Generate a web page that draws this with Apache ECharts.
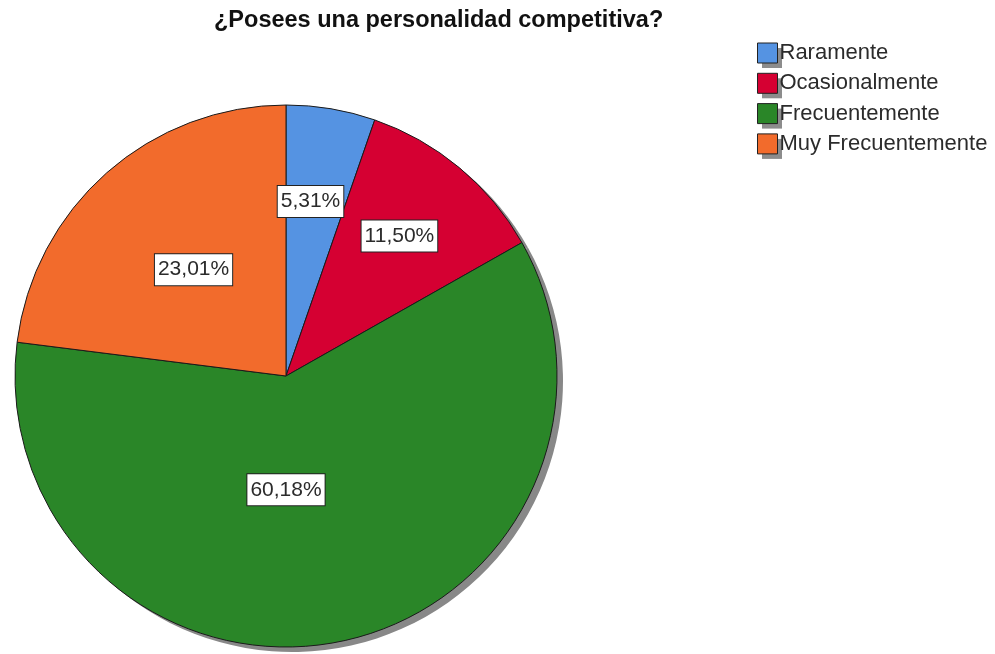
<!DOCTYPE html>
<html>
<head>
<meta charset="utf-8">
<script src="https://cdn.jsdelivr.net/npm/echarts@6/dist/echarts.min.js"></script>
<style>
  html, body { margin: 0; padding: 0; background: #fff; }
  #chart { width: 995px; height: 654px; }
</style>
</head>
<body>
<div id="chart"></div>
<script>
// Survey answers and their shares (percent)
const categories = ['Raramente', 'Ocasionalmente', 'Frecuentemente', 'Muy Frecuentemente'];
const shares = [5.31, 11.50, 60.18, 23.01];
const sliceColors = ['#5593E2', '#D50032', '#2A8628', '#F26B2C'];

// Where each percentage box sits: [angle from 12 o'clock in degrees, fraction of radius]
const labelPlacement = [[8, 0.65], [39, 0.665], [180, 0.42], [-41, 0.52]];

const CX = 286, CY = 376, R = 271;
const LEG_LEFT = 752, LEG_TOP = 37, LEG_GAP = 8.3, ICON = 20;

const fmt = v => v.toFixed(2).replace('.', ',') + '%';

const legendText = { fontFamily: 'Liberation Sans', fontSize: 22, lineHeight: 22, color: '#2b2b2b', padding: [0, 0, 0, -3] };

const chart = echarts.init(document.getElementById('chart'));
chart.setOption({
  animation: false,
  title: {
    text: '¿Posees una personalidad competitiva?',
    left: 209,
    top: 4,
    textStyle: { fontFamily: 'Liberation Sans', fontWeight: 'bold', fontSize: 23.5, color: '#111' }
  },
  legend: [
    {
      // grey drop shadow behind the legend swatches
      orient: 'vertical',
      left: LEG_LEFT + 5,
      top: LEG_TOP + 5,
      itemWidth: ICON,
      itemHeight: ICON,
      itemGap: LEG_GAP,
      icon: 'rect',
      selectedMode: false,
      data: categories,
      z: 1,
      textStyle: Object.assign({}, legendText, { color: 'rgba(0,0,0,0)' }),
      itemStyle: { color: '#8c8c8c', borderWidth: 0 }
    },
    {
      orient: 'vertical',
      left: LEG_LEFT,
      top: LEG_TOP,
      itemWidth: ICON,
      itemHeight: ICON,
      itemGap: LEG_GAP,
      icon: 'rect',
      data: categories,
      z: 3,
      textStyle: legendText,
      itemStyle: { borderColor: '#222', borderWidth: 1 }
    }
  ],
  series: [
    {
      // drop shadow under the pie
      type: 'pie',
      silent: true,
      center: [CX + 6, CY + 5],
      radius: R,
      startAngle: 90,
      label: { show: false },
      labelLine: { show: false },
      itemStyle: { color: '#888888', borderWidth: 0 },
      data: shares.map(v => ({ value: v, name: '' })),
      legendHoverLink: false,
      z: 1
    },
    {
      type: 'pie',
      center: [CX, CY],
      radius: R,
      startAngle: 90,
      clockwise: true,
      z: 2,
      itemStyle: { borderColor: '#1a1a1a', borderWidth: 1 },
      label: {
        show: true,
        position: 'inside',
        formatter: p => fmt(p.value),
        fontFamily: 'Liberation Sans',
        fontSize: 21,
        lineHeight: 24,
        color: '#2b2b2b',
        backgroundColor: '#fff',
        borderColor: '#222',
        borderWidth: 1,
        padding: [4, 3, 3, 3]
      },
      labelLine: { show: false },
      labelLayout: params => {
        const [deg, frac] = labelPlacement[params.dataIndex];
        const a = deg * Math.PI / 180;
        return {
          x: CX + frac * R * Math.sin(a),
          y: CY - frac * R * Math.cos(a),
          align: 'center',
          verticalAlign: 'middle'
        };
      },
      data: categories.map((c, i) => ({
        name: c,
        value: shares[i],
        itemStyle: { color: sliceColors[i] }
      }))
    }
  ]
});
</script>
</body>
</html>
